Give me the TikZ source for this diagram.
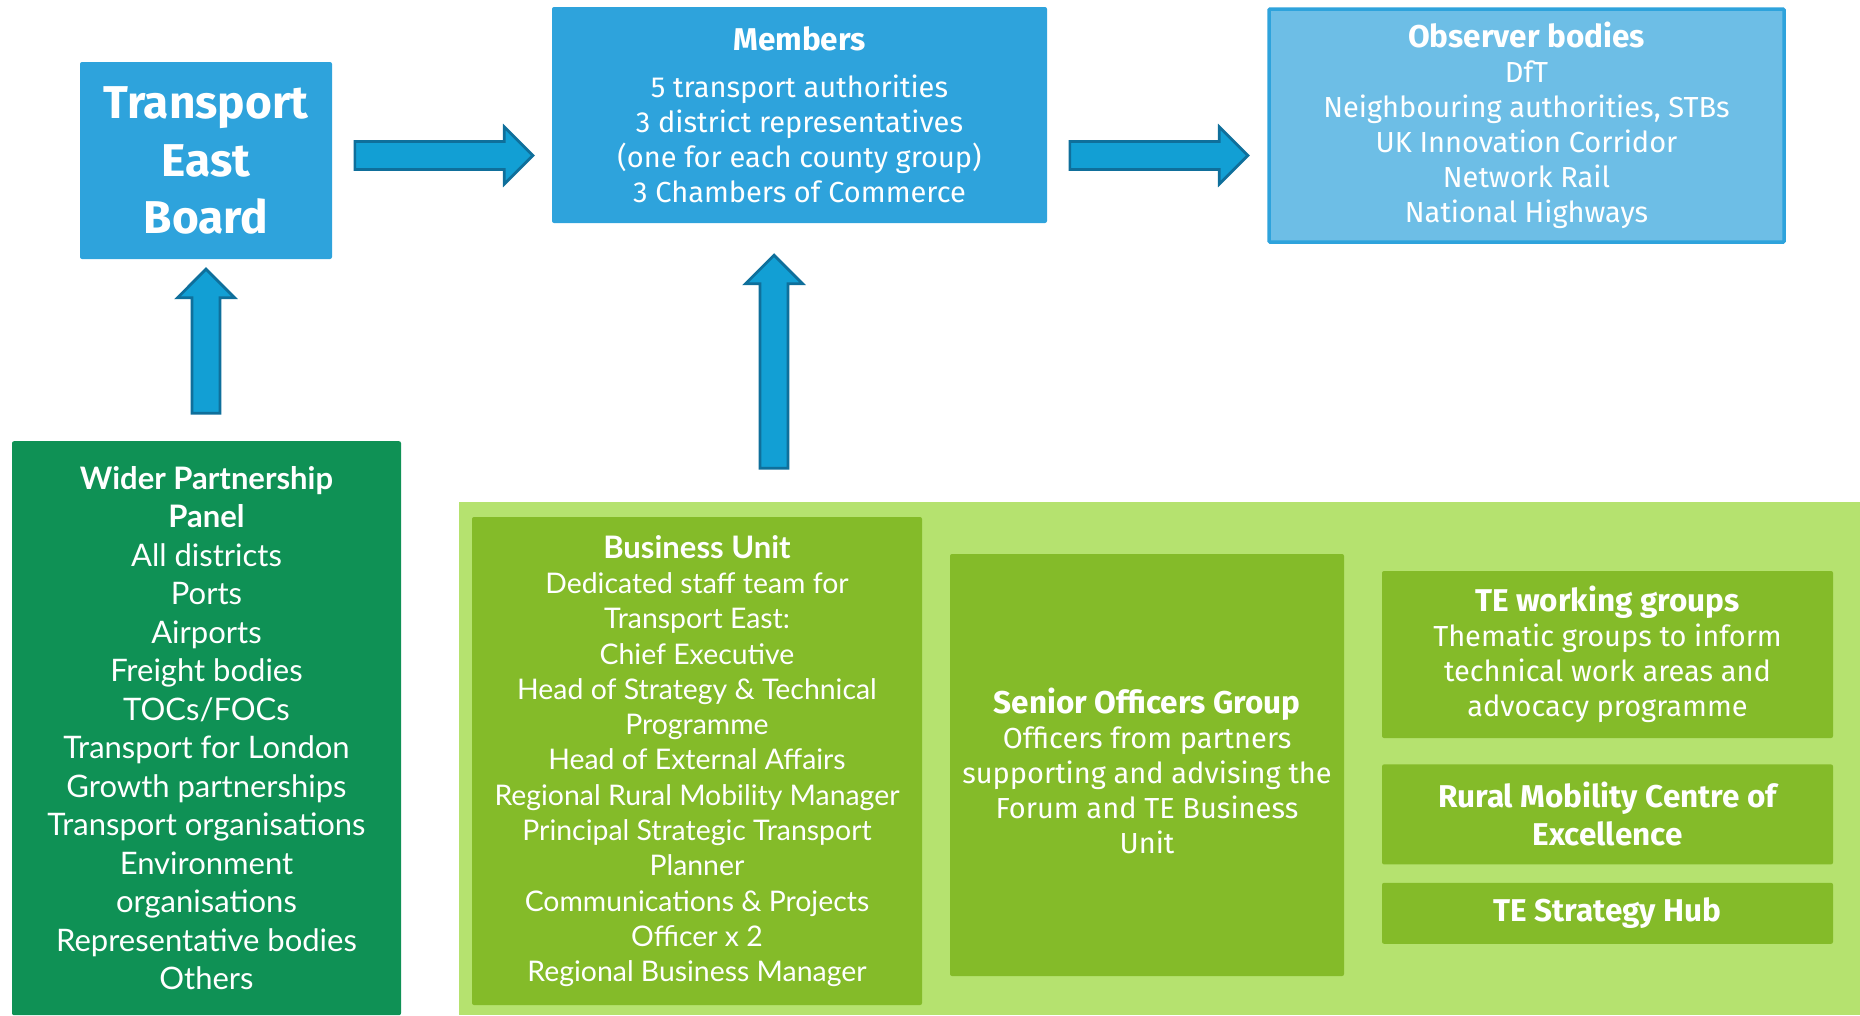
\documentclass[tikz,border=0pt]{standalone}
\usepackage{fontspec}
\usetikzlibrary{positioning,shapes.arrows}
\newfontfamily\dinfont{Fira Sans}
\newfontfamily\aptfont{Lato}
\definecolor{teblue}{HTML}{2EA3DC}
\definecolor{obsblue}{HTML}{6DBEE6}
\definecolor{arrowblue}{HTML}{129FD4}
\definecolor{arrowline}{HTML}{0F6F9B}
\definecolor{panelgreen}{HTML}{0F9155}
\definecolor{palegreen}{HTML}{B5E26F}
\definecolor{leafgreen}{HTML}{84BB29}

\begin{document}
\begin{tikzpicture}[x=1pt,y=-1pt]
  \tikzstyle{unit} = [rectangle, rounded corners=2pt, text=white, align=center, inner sep=0pt]
  \tikzstyle{bluebox} = [unit, fill=teblue]
  \tikzstyle{greenbox} = [unit, fill=leafgreen]
  \tikzstyle{dinbody} = [font=\dinfont\fontsize{29}{35}\selectfont]
  \tikzstyle{aptbody} = [font=\aptfont\fontsize{28.4}{35.3}\selectfont]
  \tikzstyle{blockarrow} = [single arrow, draw=arrowline, fill=arrowblue, line width=2.7pt,
    inner xsep=0pt, inner ysep=12.7pt, single arrow head extend=14.5pt, anchor=tail]
  \newcommand{\hd}[1]{{\bfseries\fontsize{31.5}{35}\selectfont #1}}
  \useasboundingbox (0,0) rectangle (1860,1015);

  % Top row
  \node[bluebox, minimum width=252pt, minimum height=197pt,
    font=\dinfont\bfseries\fontsize{46}{57.5}\selectfont] (board) at (206,160.5)
    {Transport\\East\\Board};
  \node[bluebox, dinbody, minimum width=495pt, minimum height=216pt] (members) at (799.5,115)
    {\hd{Members}\\[12pt] 5 transport authorities\\ 3 district representatives\\
     (one for each county group)\\ 3 Chambers of Commerce};
  \node[unit, dinbody, fill=obsblue, draw=teblue, line width=3.5pt, rounded corners=1pt,
    minimum width=515pt, minimum height=233pt] (observers) at (1526.5,125.5)
    {\hd{Observer bodies}\\ DfT\\ Neighbouring authorities, STBs\\ UK Innovation Corridor\\
     Network Rail\\ National Highways};

  % Lower area
  \node[unit, rounded corners=0pt, fill=palegreen, minimum width=1401pt, minimum height=513pt,
    anchor=north west] (team) at (459,502) {};
  \node[unit, fill=panelgreen, font=\aptfont\fontsize{31}{38.5}\selectfont,
    minimum width=389pt, minimum height=574pt, anchor=north] (panel) at (206.5,441)
    {\textbf{Wider Partnership}\\ \textbf{Panel}\\ All districts\\ Ports\\ Airports\\
     Freight bodies\\ TOCs/FOCs\\ Transport for London\\ Growth partnerships\\
     Transport organisations\\ Environment\\ organisations\\ Representative bodies\\ Others};
  \node[greenbox, aptbody, minimum width=450pt, minimum height=488pt] (business) at (697,761)
    {\textbf{\fontsize{31}{35}\selectfont Business Unit}\\ Dedicated staff team for\\
     Transport East:\\ Chief Executive\\ Head of Strategy \& Technical\\ Programme\\
     Head of External Affairs\\ Regional Rural Mobility Manager\\
     Principal Strategic Transport\\ Planner\\ Communications \& Projects\\
     Officer x 2\\ Regional Business Manager};
  \node[greenbox, minimum width=394pt, minimum height=422pt] (senior) at (1147,765) {};
  \node[unit, dinbody, yshift=-6pt] (seniortext) at (senior.center)
    {\hd{Senior Officers Group}\\ Officers from partners\\ supporting and advising the\\
     Forum and TE Business\\ Unit};
  \node[greenbox, dinbody, minimum width=451pt, minimum height=167pt] (groups) at (1607.5,654.5)
    {\hd{TE working groups}\\ Thematic groups to inform\\ technical work areas and\\
     advocacy programme};
  \node[greenbox, font=\dinfont\bfseries\fontsize{31.5}{38}\selectfont,
    minimum width=451pt, minimum height=100pt, below=26pt of groups] (rural)
    {Rural Mobility Centre of\\ Excellence};
  \node[greenbox, font=\dinfont\bfseries\fontsize{31.5}{38}\selectfont,
    minimum width=451pt, minimum height=61pt, below=18pt of rural] (hub)
    {TE Strategy Hub};

  % Block arrows
  \node[blockarrow, minimum height=178pt] (boardtomembers) at (353.5,155.5) {};
  \node[blockarrow, minimum height=178pt] (memberstoobs) at (1068.5,155.5) {};
  \node[blockarrow, rotate=90, minimum height=144pt] (paneltoboard) at (206,414.5) {};
  \node[blockarrow, rotate=90, minimum height=213pt] (teamtomembers) at (774,469.5) {};
\end{tikzpicture}
\end{document}
